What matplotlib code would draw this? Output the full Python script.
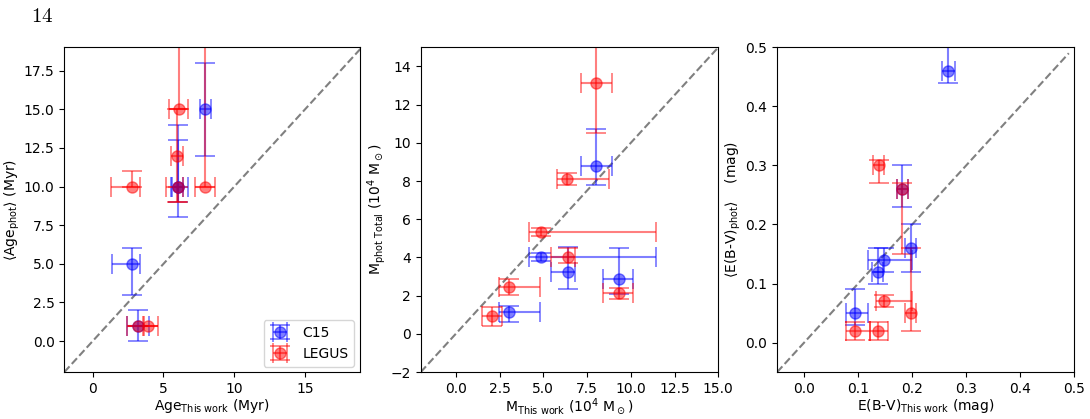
import matplotlib
matplotlib.use("Agg")
import matplotlib.pyplot as plt
import numpy as np

# ---------------- Panel 1: Age (Myr) ----------------
age_c15_x = [2.75, 3.2, 6.0, 6.05, 7.95]
age_c15_y = [5.0, 1.0, 10.0, 10.0, 15.0]
age_c15_xlo = [1.4, 0.8, 0.4, 0.5, 0.4]
age_c15_xhi = [0.6, 0.8, 0.7, 0.3, 0.4]
age_c15_ylo = [2.0, 1.0, 2.0, 1.0, 3.0]
age_c15_yhi = [1.0, 1.0, 4.0, 3.0, 3.0]

age_leg_x = [2.75, 3.2, 3.9, 5.95, 6.0, 6.1, 7.95]
age_leg_y = [10.0, 1.0, 1.0, 12.0, 10.0, 15.0, 10.0]
age_leg_xlo = [1.45, 0.8, 0.35, 0.4, 0.8, 0.7, 0.75]
age_leg_xhi = [0.6, 0.4, 0.7, 0.4, 0.4, 0.65, 0.7]
age_leg_ylo = [0.0, 0.0, 0.0, 3.0, 1.0, 0.0, 0.0]
age_leg_yhi = [1.0, 0.0, 0.0, 3.0, 0.0, 5.0, 10.0]

# ---------------- Panel 2: Mass (1e4 Msun) ----------------
m_c15_x = [8.02, 4.88, 6.44, 9.32, 3.05]
m_c15_y = [8.79, 4.04, 3.24, 2.89, 1.16]
m_c15_xlo = [0.87, 0.69, 0.97, 0.9, 0.57]
m_c15_xhi = [0.9, 6.55, 0.36, 0.8, 1.79]
m_c15_ylo = [1.0, 0.2, 0.91, 0.8, 0.56]
m_c15_yhi = [1.93, 0.2, 1.32, 1.63, 0.3]

m_leg_x = [8.02, 6.37, 4.88, 6.44, 3.05, 2.06, 9.32]
m_leg_y = [13.15, 8.1, 5.33, 4.04, 2.45, 0.93, 2.12]
m_leg_xlo = [0.87, 0.58, 0.69, 0.97, 0.57, 0.57, 0.9]
m_leg_xhi = [0.9, 2.38, 6.55, 0.36, 1.79, 0.57, 0.8]
m_leg_ylo = [2.65, 0.3, 0.22, 0.35, 0.4, 0.5, 0.3]
m_leg_yhi = [3.0, 0.3, 0.22, 0.45, 0.4, 0.5, 0.3]

# ---------------- Panel 3: E(B-V) (mag) ----------------
e_c15_x = [0.267, 0.197, 0.148, 0.136, 0.095, 0.182]
e_c15_y = [0.46, 0.16, 0.14, 0.12, 0.05, 0.26]
e_c15_xlo = [0.011, 0.01, 0.03, 0.01, 0.017, 0.01]
e_c15_xhi = [0.013, 0.01, 0.052, 0.01, 0.024, 0.01]
e_c15_ylo = [0.02, 0.04, 0.02, 0.02, 0.02, 0.03]
e_c15_yhi = [0.04, 0.04, 0.02, 0.04, 0.04, 0.04]

e_leg_x = [0.138, 0.182, 0.148, 0.197, 0.095, 0.136]
e_leg_y = [0.30, 0.26, 0.07, 0.05, 0.02, 0.02]
e_leg_xlo = [0.01, 0.01, 0.015, 0.01, 0.017, 0.015]
e_leg_xhi = [0.01, 0.01, 0.052, 0.01, 0.026, 0.019]
e_leg_ylo = [0.03, 0.11, 0.01, 0.03, 0.015, 0.015]
e_leg_yhi = [0.01, 0.01, 0.01, 0.11, 0.015, 0.015]

fig = plt.figure(figsize=(10.9, 4.19), dpi=100)
axes = [fig.add_axes([0.059, 0.112, 0.271, 0.775]),
        fig.add_axes([0.386, 0.112, 0.273, 0.775]),
        fig.add_axes([0.713, 0.112, 0.2725, 0.775])]

style = dict(fmt='o', alpha=0.5, ms=8, capsize=7, elinewidth=1.5, capthick=1.3)

def panel(ax, cx, cy, cxl, cxh, cyl, cyh, lx, ly, lxl, lxh, lyl, lyh, lim):
    ax.plot(lim, lim, '--', color='gray', lw=1.5, zorder=0)
    ax.errorbar(cx, cy, xerr=[cxl, cxh], yerr=[cyl, cyh], color='b', label='C15', **style)
    ax.errorbar(lx, ly, xerr=[lxl, lxh], yerr=[lyl, lyh], color='r', label='LEGUS', **style)
    ax.tick_params(labelsize=10)

ax = axes[0]
panel(ax, age_c15_x, age_c15_y, age_c15_xlo, age_c15_xhi, age_c15_ylo, age_c15_yhi,
      age_leg_x, age_leg_y, age_leg_xlo, age_leg_xhi, age_leg_ylo, age_leg_yhi, [-2, 19])
ax.set_xlim(-2, 18.85)
ax.set_ylim(-2, 19)
ax.set_xticks([0, 5, 10, 15])
ax.set_yticks([0, 2.5, 5, 7.5, 10, 12.5, 15, 17.5])
ax.set_yticklabels(['0.0', '2.5', '5.0', '7.5', '10.0', '12.5', '15.0', '17.5'])
ax.set_xlabel(r'Age$_{\mathrm{This\ work}}$ (Myr)', fontsize=10, labelpad=1)
ax.set_ylabel(r'$\langle$Age$_{\mathrm{phot}}\rangle$ (Myr)', fontsize=10, labelpad=1)
ax.legend(loc='lower right', fontsize=10, handlelength=1.6, borderaxespad=0.4)

ax = axes[1]
panel(ax, m_c15_x, m_c15_y, m_c15_xlo, m_c15_xhi, m_c15_ylo, m_c15_yhi,
      m_leg_x, m_leg_y, m_leg_xlo, m_leg_xhi, m_leg_ylo, m_leg_yhi, [-2, 15])
ax.set_xlim(-2, 15)
ax.set_ylim(-2, 15)
ax.set_xticks([0, 2.5, 5, 7.5, 10, 12.5, 15])
ax.set_xticklabels(['0.0', '2.5', '5.0', '7.5', '10.0', '12.5', '15.0'])
ax.set_yticks([-2, 0, 2, 4, 6, 8, 10, 12, 14])
ax.set_xlabel(r'M$_{\mathrm{This\ work}}$ (10$^4$ M$_\odot$)', fontsize=10, labelpad=1)
ax.set_ylabel(r'M$_{\mathrm{phot\ Total}}$ (10$^4$ M$_\odot$)', fontsize=10, labelpad=2)

ax = axes[2]
panel(ax, e_c15_x, e_c15_y, e_c15_xlo, e_c15_xhi, e_c15_ylo, e_c15_yhi,
      e_leg_x, e_leg_y, e_leg_xlo, e_leg_xhi, e_leg_ylo, e_leg_yhi, [-0.05, 0.49])
ax.set_xlim(-0.05, 0.5)
ax.set_ylim(-0.05, 0.5)
ax.set_xticks([0, 0.1, 0.2, 0.3, 0.4, 0.5])
ax.set_yticks([0, 0.1, 0.2, 0.3, 0.4, 0.5])
ax.set_xlabel(r'E(B-V)$_{\mathrm{This\ work}}$ (mag)', fontsize=10, labelpad=1)
ax.set_ylabel(r'$\langle$E(B-V)$_{\mathrm{phot}}\rangle$    (mag)', fontsize=10, labelpad=2)

fig.text(0.028, 0.985, r'$14$', fontsize=15, va='top', ha='left', math_fontfamily='cm')

fig.savefig('out.png', dpi=100)
